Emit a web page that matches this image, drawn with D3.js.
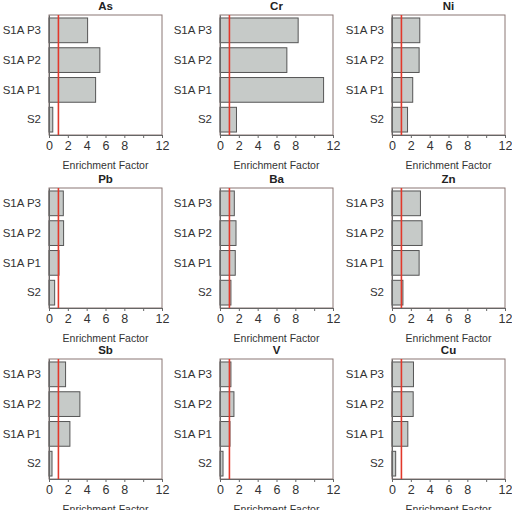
<!DOCTYPE html>
<html>
<head>
<meta charset="utf-8">
<script src="https://cdn.jsdelivr.net/npm/d3@7"></script>
<style>
  body { margin: 0; background: #fff; }
  svg { font-family: "Liberation Sans", Arial, sans-serif; }
</style>
</head>
<body>
<div id="chart"></div>
<script>
var samples = ["S1A P3", "S1A P2", "S1A P1", "S2"];
var elements = ["As", "Cr", "Ni", "Pb", "Ba", "Zn", "Sb", "V", "Cu"];
// values per element in order of samples
var asVals = [4.1, 5.4, 4.95, 0.4];
var crVals = [8.3, 7.1, 11.0, 1.75];
var niVals = [2.95, 2.88, 2.2, 1.65];
var pbVals = [1.52, 1.55, 1.06, 0.6];
var baVals = [1.52, 1.7, 1.62, 1.16];
var znVals = [3.02, 3.19, 2.88, 1.16];
var sbVals = [1.76, 3.28, 2.22, 0.32];
var vVals = [1.16, 1.48, 1.06, 0.32];
var cuVals = [2.28, 2.25, 1.68, 0.39];
var allVals = [asVals, crVals, niVals, pbVals, baVals, znVals, sbVals, vVals, cuVals];
var xTicks = [0, 2, 4, 6, 8, 10, 12];
var xTickLabels = ["0", "2", "4", "6", "8", "", "12"];
var threshold = 1;

var colX = [49, 220, 392];
var rowY = [15, 188, 359];
var width = 113;
var height = 120;

var svg = d3
  .select("#chart")
  .append("svg")
  .attr("width", 512)
  .attr("height", 510);

var x = d3.scaleLinear().domain([0, 12]).range([0, width]);
var y = d3
  .scaleBand()
  .domain(samples)
  .range([0, height])
  .paddingInner(0.17)
  .paddingOuter(0.1);

elements.forEach(function(el, i) {
  var vals = allVals[i];
  var data = samples.map(function(s, j) {
    return { sample: s, value: vals[j] };
  });

  var g = svg
    .append("g")
    .attr("transform", "translate(" + colX[i % 3] + "," + rowY[Math.floor(i / 3)] + ")");

  // frame
  g.append("rect")
    .attr("width", width)
    .attr("height", height)
    .attr("fill", "none")
    .attr("stroke", "#8a7775")
    .attr("stroke-width", 1);

  g.selectAll(".bar")
    .data(data)
    .enter()
    .append("rect")
    .attr("class", "bar")
    .attr("x", 0)
    .attr("y", d => y(d.sample))
    .attr("width", d => x(d.value))
    .attr("height", y.bandwidth())
    .attr("fill", "#c6cac8")
    .attr("stroke", "#555")
    .attr("stroke-width", 1);

  g.append("line")
    .attr("x1", x(threshold))
    .attr("x2", x(threshold))
    .attr("y1", 0)
    .attr("y2", height)
    .attr("stroke", "#e2382b")
    .attr("stroke-width", 1.6);

  var axisX = d3
    .axisBottom(x)
    .tickValues(xTicks)
    .tickFormat((d, k) => xTickLabels[k])
    .tickSize(3)
    .tickSizeOuter(0)
    .tickPadding(3);

  var gx = g
    .append("g")
    .attr("transform", "translate(0," + height + ")")
    .call(axisX);
  gx.select(".domain").attr("stroke", "#666");
  gx.selectAll(".tick line").attr("stroke", "#666");
  gx.selectAll("text")
    .style("font-size", "12.5px")
    .attr("fill", "#333");

  var gy = g.append("g").call(d3.axisLeft(y).tickSize(0).tickPadding(8));
  gy.select(".domain").attr("stroke", "#666");
  gy.selectAll("text")
    .style("font-size", "11.5px")
    .attr("fill", "#333");

  g.append("text")
    .attr("x", width / 2)
    .attr("y", -5)
    .style("text-anchor", "middle")
    .style("font-size", "11.5px")
    .style("font-weight", "bold")
    .attr("fill", "#222")
    .text(el);

  g.append("text")
    .attr("x", width / 2)
    .attr("y", height + 34)
    .style("text-anchor", "middle")
    .style("font-size", "10.5px")
    .attr("fill", "#333")
    .text("Enrichment Factor");
});
</script>
</body>
</html>
